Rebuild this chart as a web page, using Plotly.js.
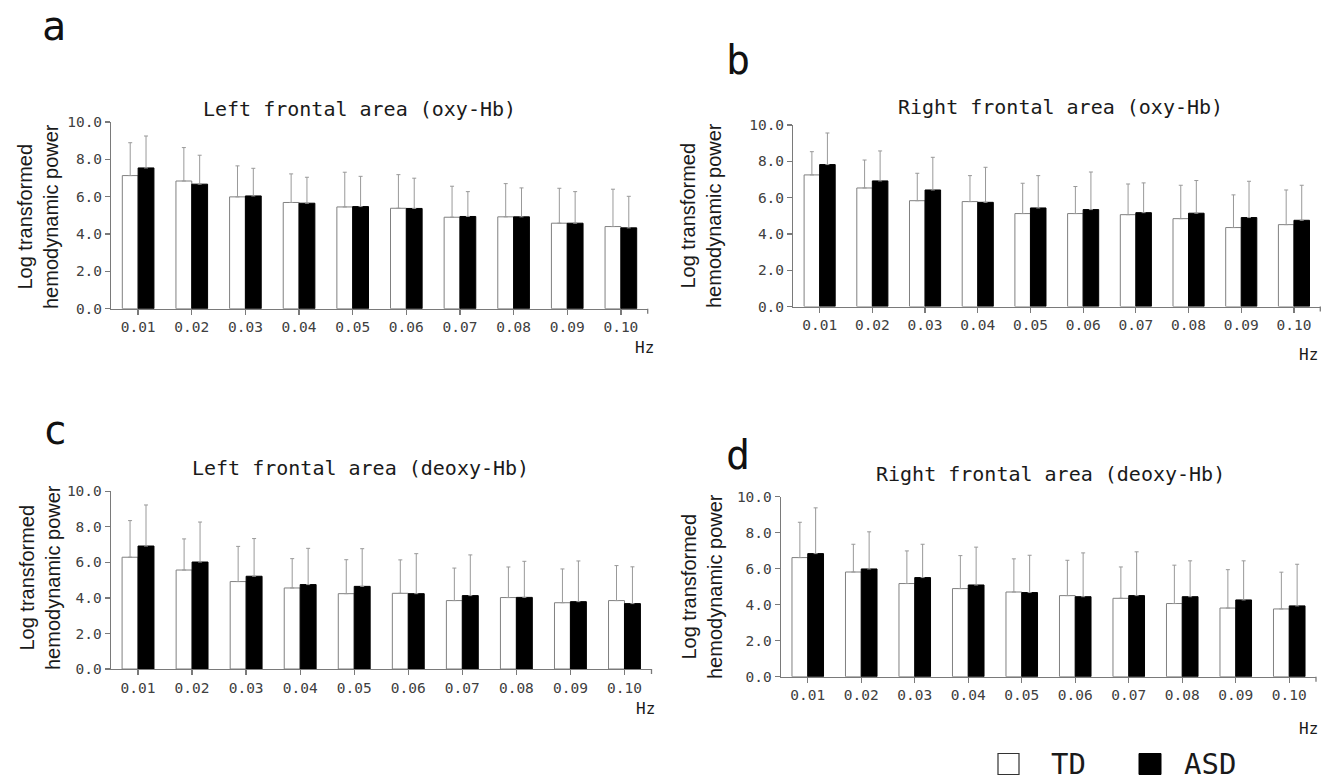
<!DOCTYPE html>
<html>
<head>
<meta charset="utf-8">
<script src="https://cdn.plot.ly/plotly-3.0.1.min.js"></script>
<style>
  html, body { margin: 0; padding: 0; background: #ffffff; }
  #chart { width: 1326px; height: 780px; }
</style>
</head>
<body>
<div id="chart"></div>
<script>
// ---- data ----
const freqLabels = ["0.01","0.02","0.03","0.04","0.05","0.06","0.07","0.08","0.09","0.10"];
const yTicks = [0, 2, 4, 6, 8, 10];

const panelTitles = [
  "Left frontal area (oxy-Hb)",
  "Right frontal area (oxy-Hb)",
  "Left frontal area (deoxy-Hb)",
  "Right frontal area (deoxy-Hb)"
];
const panelLetters = ["a", "b", "c", "d"];
const groupNames = ["TD", "ASD"];

// a: left oxy-Hb
const aTD     = [7.13, 6.84, 5.99, 5.69, 5.45, 5.38, 4.90, 4.92, 4.58, 4.40];
const aTDsd   = [1.76, 1.79, 1.66, 1.53, 1.86, 1.80, 1.66, 1.78, 1.87, 2.00];
const aASD    = [7.54, 6.67, 6.04, 5.65, 5.47, 5.37, 4.94, 4.92, 4.58, 4.33];
const aASDsd  = [1.71, 1.55, 1.48, 1.39, 1.62, 1.62, 1.33, 1.55, 1.69, 1.69];
// b: right oxy-Hb
const bTD     = [7.25, 6.53, 5.83, 5.78, 5.12, 5.12, 5.06, 4.84, 4.35, 4.51];
const bTDsd   = [1.28, 1.54, 1.51, 1.43, 1.67, 1.49, 1.69, 1.84, 1.80, 1.91];
const bASD    = [7.82, 6.92, 6.42, 5.74, 5.43, 5.34, 5.17, 5.14, 4.90, 4.75];
const bASDsd  = [1.74, 1.65, 1.80, 1.93, 1.78, 2.07, 1.64, 1.80, 2.00, 1.93];
// c: left deoxy-Hb
const cTD     = [6.29, 5.57, 4.92, 4.56, 4.24, 4.26, 3.85, 4.02, 3.73, 3.85];
const cTDsd   = [2.06, 1.75, 1.98, 1.65, 1.91, 1.88, 1.83, 1.72, 1.90, 1.97];
const cASD    = [6.92, 6.02, 5.22, 4.75, 4.65, 4.24, 4.13, 4.03, 3.79, 3.68];
const cASDsd  = [2.31, 2.25, 2.12, 2.04, 2.12, 2.25, 2.29, 2.03, 2.29, 2.07];
// d: right deoxy-Hb
const dTD     = [6.61, 5.81, 5.17, 4.89, 4.70, 4.50, 4.35, 4.06, 3.81, 3.76];
const dTDsd   = [1.96, 1.54, 1.81, 1.83, 1.84, 1.96, 1.74, 2.13, 2.13, 2.04];
const dASD    = [6.83, 5.98, 5.50, 5.09, 4.67, 4.44, 4.50, 4.44, 4.26, 3.93];
const dASDsd  = [2.54, 2.06, 1.85, 2.10, 2.07, 2.43, 2.43, 1.99, 2.17, 2.31];

// ---- layout (pixel boxes of each plot area) ----
const W = 1326, H = 780;
const boxes = [
  {x0: 111.3, x1: 647.7, y0: 122.0, y1: 308.7, title: [359, 109], letter: [54, 26], ytitle: [38, 217], hz: [644, 347]},
  {x0: 793.3, x1: 1320.3, y0: 125.0, y1: 306.5, title: [1060, 107], letter: [738, 60], ytitle: [701, 216], hz: [1308, 355]},
  {x0: 111.0, x1: 651.5, y0: 491.3, y1: 669.0, title: [360, 468], letter: [55, 430], ytitle: [40, 578], hz: [645, 708]},
  {x0: 781.0, x1: 1316.0, y0: 496.5, y1: 676.7, title: [1050, 474], letter: [738, 455], ytitle: [702, 587], hz: [1308, 728]}
];
const series = [
  [aTD, aTDsd, aASD, aASDsd],
  [bTD, bTDsd, bASD, bASDsd],
  [cTD, cTDsd, cASD, cASDsd],
  [dTD, dTDsd, dASD, dASDsd]
];

const MONO = "DejaVu Sans Mono, Liberation Mono, monospace";
const SANS = "Liberation Sans, Arial, sans-serif";
const axisCol = "#7a7a7a";
const errCol = "#999999";
const zeros = freqLabels.map(() => 0);

const traces = [];
const layout = {
  width: W, height: H,
  margin: {l: 0, r: 0, t: 0, b: 0},
  paper_bgcolor: "#ffffff",
  plot_bgcolor: "rgba(0,0,0,0)",
  showlegend: false,
  barmode: "group",
  bargap: 0.41,
  bargroupgap: 0,
  annotations: [],
  shapes: []
};

boxes.forEach((bx, i) => {
  const n = i === 0 ? "" : String(i + 1);
  const xa = "x" + n, ya = "y" + n;
  const [td, tdsd, asd, asdsd] = series[i];
  traces.push({
    type: "bar", name: groupNames[0], x: freqLabels, y: td,
    xaxis: xa, yaxis: ya,
    marker: {color: "#ffffff", line: {color: "#808080", width: 1}},
    error_y: {type: "data", symmetric: false, array: tdsd, arrayminus: zeros,
              color: errCol, thickness: 1, width: 2},
    hoverinfo: "skip"
  });
  traces.push({
    type: "bar", name: groupNames[1], x: freqLabels, y: asd,
    xaxis: xa, yaxis: ya,
    marker: {color: "#000000", line: {color: "#000000", width: 1}},
    error_y: {type: "data", symmetric: false, array: asdsd, arrayminus: zeros,
              color: errCol, thickness: 1, width: 2},
    hoverinfo: "skip"
  });
  layout["xaxis" + n] = {
    domain: [bx.x0 / W, bx.x1 / W],
    anchor: ya,
    type: "category",
    categoryorder: "array", categoryarray: freqLabels,
    showline: true, linecolor: axisCol, linewidth: 1.3,
    ticks: "outside", ticklen: 5, tickcolor: axisCol, tickwidth: 1.3,
    showgrid: false, zeroline: false,
    tickfont: {family: MONO, size: 14.5, color: "#404040"},
    fixedrange: true
  };
  layout["yaxis" + n] = {
    domain: [1 - bx.y1 / H, 1 - bx.y0 / H],
    anchor: xa,
    range: [0, 10],
    tickvals: yTicks, tickformat: ".1f",
    showline: true, linecolor: axisCol, linewidth: 1.3,
    ticks: "outside", ticklen: 5, tickcolor: axisCol, tickwidth: 1.3,
    showgrid: false, zeroline: false,
    tickfont: {family: MONO, size: 14.5, color: "#404040"},
    fixedrange: true
  };
  // end tick at right end of x axis
  layout.shapes.push({
    type: "line", xref: xa + " domain", yref: "paper",
    x0: 1, x1: 1, y0: 1 - bx.y1 / H, y1: 1 - (bx.y1 + 5) / H,
    line: {color: axisCol, width: 1.3}
  });
  // panel title
  layout.annotations.push({
    text: panelTitles[i], xref: "paper", yref: "paper",
    x: bx.title[0] / W, y: 1 - bx.title[1] / H,
    xanchor: "center", yanchor: "middle", showarrow: false,
    font: {family: MONO, size: 20, color: "#1a1a1a"}
  });
  // panel letter
  layout.annotations.push({
    text: panelLetters[i], xref: "paper", yref: "paper",
    x: bx.letter[0] / W, y: 1 - bx.letter[1] / H,
    xanchor: "center", yanchor: "middle", showarrow: false,
    font: {family: MONO, size: 40, color: "#111111"}
  });
  // y axis title
  layout.annotations.push({
    text: "Log transformed<br>hemodynamic power", xref: "paper", yref: "paper",
    x: bx.ytitle[0] / W, y: 1 - bx.ytitle[1] / H,
    xanchor: "center", yanchor: "middle", showarrow: false, textangle: -90,
    font: {family: SANS, size: 20, color: "#1a1a1a"}
  });
  // Hz unit label
  layout.annotations.push({
    text: "Hz", xref: "paper", yref: "paper",
    x: bx.hz[0] / W, y: 1 - bx.hz[1] / H,
    xanchor: "center", yanchor: "middle", showarrow: false,
    font: {family: MONO, size: 16, color: "#1a1a1a"}
  });
});

// legend (bottom right)
const legY = 764;
layout.shapes.push({
  type: "rect", xref: "paper", yref: "paper",
  x0: 998 / W, x1: 1019 / W, y0: 1 - (legY - 10.5) / H, y1: 1 - (legY + 10.5) / H,
  fillcolor: "#ffffff", line: {color: "#333333", width: 1.2}
});
layout.shapes.push({
  type: "rect", xref: "paper", yref: "paper",
  x0: 1139 / W, x1: 1161 / W, y0: 1 - (legY - 10.5) / H, y1: 1 - (legY + 10.5) / H,
  fillcolor: "#000000", line: {color: "#000000", width: 1}
});
layout.annotations.push({
  text: groupNames[0], xref: "paper", yref: "paper",
  x: 1049 / W, y: 1 - legY / H, xanchor: "left", yanchor: "middle", showarrow: false,
  font: {family: MONO, size: 29, color: "#1a1a1a"}
});
layout.annotations.push({
  text: groupNames[1], xref: "paper", yref: "paper",
  x: 1182 / W, y: 1 - legY / H, xanchor: "left", yanchor: "middle", showarrow: false,
  font: {family: MONO, size: 29, color: "#1a1a1a"}
});

Plotly.newPlot("chart", traces, layout, {staticPlot: true, displayModeBar: false});
</script>
</body>
</html>
